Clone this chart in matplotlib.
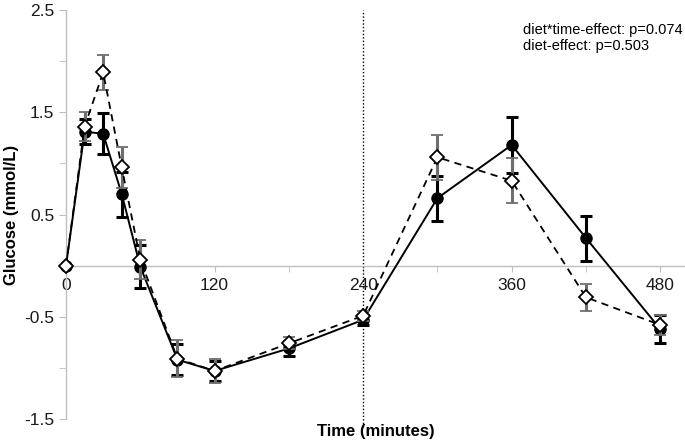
import matplotlib
matplotlib.use("Agg")
from matplotlib import pyplot as plt

plt.rcParams['font.family'] = ['Liberation Sans', 'DejaVu Sans']

# sampling times (minutes)
time_pts = [0, 15, 30, 45, 60, 90, 120, 180, 240, 300, 360, 420, 480]

# filled circles, solid line
solid_mean = [0.0, 1.31, 1.29, 0.70, -0.01, -0.92, -1.03, -0.81, -0.53, 0.66, 1.18, 0.27, -0.62]
solid_err = [0.0, 0.12, 0.20, 0.22, 0.21, 0.15, 0.10, 0.07, 0.05, 0.22, 0.27, 0.22, 0.14]

# open diamonds, dashed line
dash_mean = [0.0, 1.36, 1.89, 0.96, 0.06, -0.91, -1.03, -0.76, -0.49, 1.06, 0.83, -0.31, -0.58]
dash_err = [0.0, 0.14, 0.17, 0.20, 0.19, 0.18, 0.12, 0.06, 0.05, 0.22, 0.22, 0.13, 0.10]

y_ticks = [-1.5, -0.5, 0.5, 1.5, 2.5]
x_ticks = [0, 120, 240, 360, 480]

stats_text = "diet*time-effect: p=0.074\ndiet-effect: p=0.503"

grey = '#bfbfbf'

fig = plt.figure(figsize=(6.85, 4.45), dpi=100)
ax = fig.add_axes([0.0964, 0.0584, 0.9036, 0.9191])

eb1 = ax.errorbar(time_pts, solid_mean, yerr=solid_err, color='black', lw=1.4,
                  ls='-', marker='o', ms=8, mfc='black', mec='black',
                  ecolor='black', elinewidth=2.2, capsize=4, capthick=2.2, zorder=3)
eb2 = ax.errorbar(time_pts, dash_mean, yerr=dash_err, color='black', lw=1.3,
                  ls=(0, (4, 3)), marker='D', ms=7, mfc='white', mec='black', mew=1.3,
                  ecolor='#6e6e6e', elinewidth=2.2, capsize=4, capthick=2.2, zorder=4)
for eb in (eb1, eb2):
    for art in eb.get_children():
        art.set_clip_on(False)

ax.vlines(240, -1.58, 2.5, colors='black', linestyles=(0, (1, 1.5)), lw=1.0,
          clip_on=False, zorder=2)

ax.set_xlim(0, 500)
ax.set_ylim(-1.5, 2.5)
ax.set_xticks(x_ticks)
ax.set_xticks(range(0, 500, 60), minor=True)
ax.set_yticks(y_ticks)
ax.set_yticks([v / 2 for v in range(-3, 6)], minor=True)

ax.spines['top'].set_visible(False)
ax.spines['right'].set_visible(False)
ax.spines['bottom'].set_position(('data', 0))
for s in ('left', 'bottom'):
    ax.spines[s].set_color(grey)
    ax.spines[s].set_linewidth(1.0)

ax.tick_params(axis='both', which='both', color=grey, direction='out',
               labelsize=12.5, labelcolor='#1a1a1a')
ax.tick_params(axis='y', which='both', length=5)
ax.tick_params(axis='x', which='both', length=4, pad=5)
ax.tick_params(axis='x', which='minor', labelbottom=False)

ax.set_yticklabels([f"{v:.1f}" for v in y_ticks])

ax.set_ylabel("Glucose (mmol/L)", fontsize=12, fontweight='bold', labelpad=4)
fig.text(0.549, 0.03, "Time (minutes)", fontsize=12, fontweight='bold',
         ha='center', va='center')

fig.text(0.763, 0.915, stats_text, fontsize=10.5, ha='left', va='center',
         linespacing=1.15)

fig.savefig("out.png", dpi=100)
